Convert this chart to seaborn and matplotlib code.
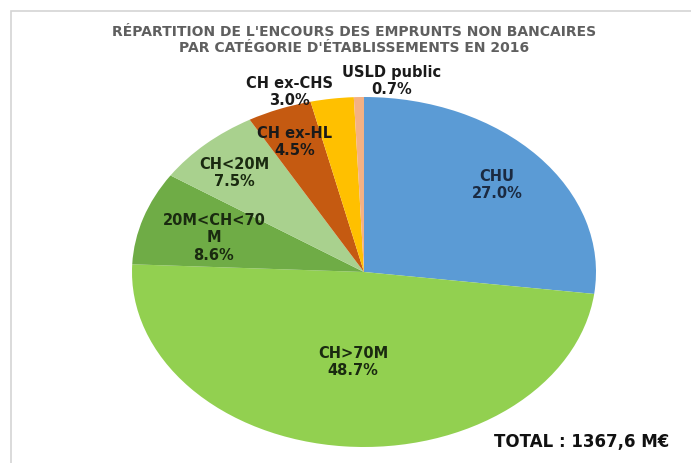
import matplotlib
matplotlib.use("Agg")
import matplotlib.pyplot as plt
import seaborn as sns
from matplotlib.patches import Rectangle

categories = ["CHU", "CH>70M", "20M<CH<70\nM", "CH<20M", "CH ex-HL", "CH ex-CHS", "USLD public"]
shares = [27.0, 48.7, 8.6, 7.5, 4.5, 3.0, 0.7]
colors = ["#5B9BD5", "#92D050", "#6FAC46", "#A9D18E", "#C55A11", "#FFC000", "#F4B183"]
title = "RÉPARTITION DE L'ENCOURS DES EMPRUNTS NON BANCAIRES\nPAR CATÉGORIE D'ÉTABLISSEMENTS EN 2016"
total_text = "TOTAL : 1367,6 M€"

sns.set_theme(style="white")
plt.rcParams["font.family"] = ["DejaVu Sans"]

W, H = 691, 463
fig = plt.figure(figsize=(W / 100, H / 100), dpi=100)
fig.patch.set_facecolor("white")

# frame lines on left and top
fig.add_artist(Rectangle((10.5 / W, -0.01), 1.2, (H - 10.5) / H + 0.01, transform=fig.transFigure,
                         fill=False, edgecolor="#d4d4d4", lw=1.2))

# pie is stretched into an ellipse
cx, cy, rx, ry = 364, 272, 232, 175
ax = fig.add_axes([(cx - rx) / W, 1 - (cy + ry) / H, 2 * rx / W, 2 * ry / H])
palette = sns.color_palette(colors)
ax.pie(shares, colors=palette, startangle=90, counterclock=False,
       wedgeprops=dict(linewidth=0), radius=1)
ax.set_aspect("auto")
ax.set_xlim(-1, 1)
ax.set_ylim(-1, 1)
ax.axis("off")

# label positions in pixel space
label_px = [(497, 185), (353, 362), (214, 238), (234, 173), (295, 142), (289, 92), (392, 81)]
text_colors = ["#1B2A41", "#1A2A10", "#1A2A10", "#1A2A10", "#1A1A1A", "#1A1A1A", "#1A1A1A"]
for cat, val, (px, py), tc in zip(categories, shares, label_px, text_colors):
    ax.text((px - cx) / rx, (cy - py) / ry, f"{cat}\n{val:.1f}%", ha="center", va="center",
            fontsize=10.5, fontweight="bold", color=tc, linespacing=1.2, clip_on=False)

fig.text(354 / W, 1 - 40 / H, title, ha="center", va="center", fontsize=10,
         fontweight="bold", color="#5f5f5f", linespacing=1.15)
fig.text(582 / W, 1 - 442 / H, total_text, ha="center", va="center", fontsize=12,
         fontweight="bold", color="#111111")

fig.savefig("out.png", dpi=100, facecolor="white")
